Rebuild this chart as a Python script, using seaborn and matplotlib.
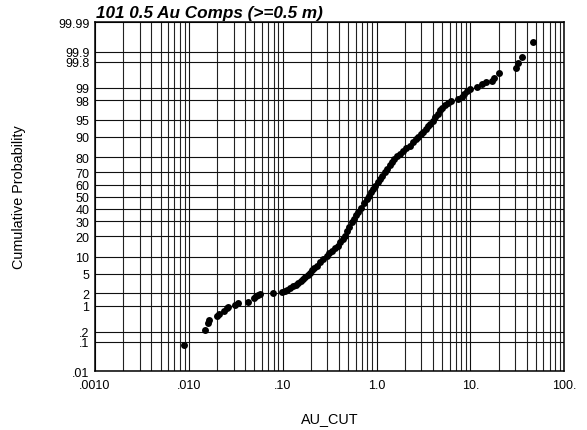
import math
import numpy as np
import pandas as pd
import matplotlib
matplotlib.use("Agg")
import matplotlib.pyplot as plt
import matplotlib.ticker as mtick
import seaborn as sns

# AU_CUT grade values and their cumulative probability (%)
au_cut = [
    0.00894, 0.01485, 0.01587, 0.01639, 0.02009, 0.02094, 0.02384, 0.02529, 0.02611,
    0.03100, 0.03362, 0.04233, 0.04904, 0.05190, 0.05490, 0.05768, 0.0782, 0.0990,
    0.1057, 0.1124, 0.1195, 0.1286, 0.1384, 0.1472, 0.1565, 0.1656, 0.1748, 0.1845,
    0.1952, 0.2060, 0.2180, 0.2300, 0.2494, 0.2705, 0.2939, 0.3133, 0.3348, 0.3612,
    0.3907, 0.4123, 0.4362, 0.4607, 0.4861, 0.5143, 0.5429, 0.5715, 0.6031, 0.6336,
    0.6802, 0.7302, 0.7843, 0.8278, 0.8736, 0.9222, 0.9732, 1.030, 1.087, 1.155,
    1.228, 1.306, 1.389, 1.466, 1.551, 1.637, 1.766, 1.910, 2.082, 2.269, 2.443,
    2.629, 2.788, 2.964, 3.144, 3.326, 3.528, 3.751, 3.990, 4.220, 4.475, 4.736,
    5.033, 5.353, 5.760, 6.20,
    7.42, 8.06, 8.60, 9.12, 9.88, 11.65, 13.17, 14.63, 16.83, 17.81, 20.39,
    30.55, 32.48, 35.65, 46.70,
]
cum_prob = [
    0.081, 0.222, 0.351, 0.441, 0.564, 0.625, 0.734, 0.875, 0.959,
    1.056, 1.18, 1.27, 1.53, 1.70, 1.85, 1.91, 1.99, 2.12,
    2.23, 2.39, 2.56, 2.81, 3.08, 3.36, 3.67, 3.99, 4.39, 4.85,
    5.33, 5.89, 6.46, 7.10, 8.10, 9.25, 10.47, 11.43, 12.40, 13.57,
    14.87, 16.55, 18.43, 20.4, 23.18, 26.13, 29.3, 31.88, 34.6, 37.3,
    40.8, 44.5, 48.1, 50.9, 53.8, 56.6, 59.4, 62.1, 64.8, 67.4,
    69.9, 72.5, 75.1, 77.0, 78.8, 80.5, 82.0, 83.5, 84.9, 86.2, 87.7,
    89.1, 89.95, 90.8, 91.5, 92.45, 93.3, 94.09, 94.8, 95.55, 96.2, 96.8,
    97.15, 97.5, 97.72, 97.94,
    98.10, 98.33, 98.58, 98.79, 98.92, 99.05, 99.19, 99.27, 99.33, 99.42, 99.59,
    99.69, 99.78, 99.86, 99.953,
]

prob_ticks = [0.01, 0.1, 0.2, 1, 2, 5, 10, 20, 30, 40, 50, 60, 70, 80, 90, 95, 98, 99, 99.8, 99.9, 99.99]
prob_labels = [".01", ".1", ".2", "1", "2", "5", "10", "20", "30", "40", "50", "60", "70", "80",
               "90", "95", "98", "99", "99.8", "99.9", "99.99"]
x_ticks = [0.001, 0.01, 0.1, 1, 10, 100]
x_labels = [".0010", ".010", ".10", "1.0", "10.", "100."]

title = "101 0.5 Au Comps (>=0.5 m)"

df = pd.DataFrame({"AU_CUT": au_cut, "prob": cum_prob})

# normal probability scale (Acklam inverse normal, no scipy here)
A = [-3.969683028665376e+01, 2.209460984245205e+02, -2.759285104469687e+02,
     1.383577518672690e+02, -3.066479806614716e+01, 2.506628277459239e+00]
B = [-5.447609879822406e+01, 1.615858368580409e+02, -1.556989798598866e+02,
     6.680131188771972e+01, -1.328068155288572e+01]
C = [-7.784894002430293e-03, -3.223964580411365e-01, -2.400758277161838e+00,
     -2.549671010228837e+00, 4.374664141464968e+00, 2.938163982698783e+00]
D = [7.784695709041462e-03, 3.224671290700398e-01, 2.445134137142996e+00,
     3.754408661907416e+00]


def _ppf(p):
    p = min(max(p, 1e-12), 1 - 1e-12)
    if p < 0.02425:
        q = math.sqrt(-2 * math.log(p))
        return (((((C[0]*q+C[1])*q+C[2])*q+C[3])*q+C[4])*q+C[5]) / \
               ((((D[0]*q+D[1])*q+D[2])*q+D[3])*q+1)
    if p > 1 - 0.02425:
        q = math.sqrt(-2 * math.log(1 - p))
        return -(((((C[0]*q+C[1])*q+C[2])*q+C[3])*q+C[4])*q+C[5]) / \
               ((((D[0]*q+D[1])*q+D[2])*q+D[3])*q+1)
    q = p - 0.5
    r = q * q
    return (((((A[0]*r+A[1])*r+A[2])*r+A[3])*r+A[4])*r+A[5])*q / \
           (((((B[0]*r+B[1])*r+B[2])*r+B[3])*r+B[4])*r+1)


def forward(pct):
    return np.vectorize(lambda v: _ppf(v / 100.0), otypes=[float])(np.asarray(pct, float))


def inverse(z):
    return np.vectorize(lambda v: 50.0 * (1 + math.erf(v / math.sqrt(2))), otypes=[float])(np.asarray(z, float))


sns.set_style("white")
plt.rcParams["font.family"] = ["Liberation Sans", "DejaVu Sans"]
plt.rcParams["text.color"] = "black"

fig = plt.figure(figsize=(5.87, 4.31), dpi=100)
ax = fig.add_axes([0.1618, 0.1362, 0.7995, 0.8097])

sns.scatterplot(data=df, x="AU_CUT", y="prob", ax=ax, color="black", s=25,
                linewidth=0, legend=False, zorder=3)

ax.set_xscale("log")
ax.set_yscale("function", functions=(forward, inverse))
ax.set_xlim(0.001, 100)
ax.set_ylim(0.01, 99.99)

ax.set_xticks(x_ticks)
ax.set_xticklabels(x_labels)
ax.xaxis.set_minor_locator(mtick.LogLocator(base=10, subs=range(2, 10), numticks=50))
ax.xaxis.set_minor_formatter(mtick.NullFormatter())
ax.set_yticks(prob_ticks)
ax.set_yticklabels(prob_labels)
ax.yaxis.set_minor_locator(mtick.NullLocator())

ax.grid(True, which="major", axis="both", color="#111111", linewidth=0.8)
ax.grid(True, which="minor", axis="x", color="#222222", linewidth=0.8)
ax.tick_params(axis="both", which="both", length=0, labelsize=9, colors="black")
ax.tick_params(axis="x", pad=5.5)
ax.tick_params(axis="y", pad=4)
for sp in ax.spines.values():
    sp.set_visible(True)
    sp.set_color("black")
    sp.set_linewidth(1.1)

ax.set_xlabel("")
ax.set_ylabel("")
ax.text(0.002, 1.014, title, transform=ax.transAxes, ha="left", va="baseline",
        fontsize=12.3, fontweight="bold", fontstyle="italic", color="black")
fig.text(329.6 / 587, 1 - 419 / 431, "AU_CUT", ha="center", va="center", fontsize=10.4, color="black")
fig.text(19 / 587, 1 - 197 / 431, "Cumulative Probability", ha="center", va="center",
         rotation=90, fontsize=10.4, color="black")

fig.savefig("out.png", dpi=100)
